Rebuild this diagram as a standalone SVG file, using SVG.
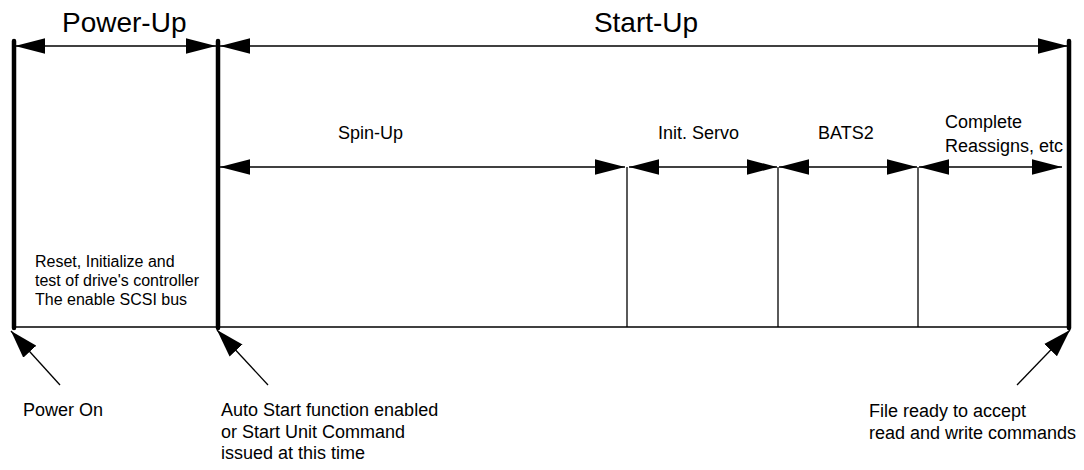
<svg xmlns="http://www.w3.org/2000/svg" width="1084" height="470" viewBox="0 0 1084 470">
  <style>
    .txt { font-family: "Liberation Sans", Arial, sans-serif; fill: #000; }
    .title { font-size: 28px; }
    .lbl { font-size: 18px; }
    .small { font-size: 16px; }
    .bar { stroke: #000; stroke-width: 4.5; stroke-linecap: round; fill: none; }
    .thin { stroke: #000; stroke-width: 1.3; fill: none; }
    .dim { stroke: #000; stroke-width: 1.3; fill: none; marker-start: url(#dimHead); marker-end: url(#dimHead); }
    .ptr { stroke: #000; stroke-width: 1.3; fill: none; marker-end: url(#ptrHead); }
  </style>
  <defs>
    <marker id="dimHead" markerUnits="userSpaceOnUse" markerWidth="30" markerHeight="16" viewBox="0 0 29 15" refX="29" refY="7.5" orient="auto-start-reverse">
      <path d="M0,0 L29,7.5 L0,15 Z" fill="#000"/>
    </marker>
    <marker id="ptrHead" markerUnits="userSpaceOnUse" markerWidth="28" markerHeight="18" viewBox="0 0 27 17" refX="27" refY="8.5" orient="auto">
      <path d="M0,0 L27,8.5 L0,17 Z" fill="#000"/>
    </marker>
  </defs>

  <!-- phase titles -->
  <g id="phase-power-up">
    <text class="txt title" x="62" y="32">Power-Up</text>
  </g>
  <g id="phase-start-up">
    <text class="txt title" x="646" y="32" text-anchor="middle">Start-Up</text>
  </g>

  <!-- milestone bars -->
  <g id="bar-power-on">
    <line class="bar" x1="14" y1="41" x2="14" y2="328"/>
  </g>
  <g id="bar-auto-start">
    <line class="bar" x1="218" y1="41" x2="218" y2="328"/>
  </g>
  <g id="bar-ready">
    <line class="bar" x1="1069" y1="41" x2="1069" y2="328"/>
  </g>

  <!-- step dividers and time axis -->
  <g id="axis">
    <line class="thin" x1="14" y1="327" x2="1069" y2="327"/>
    <line class="thin" x1="627" y1="167" x2="627" y2="327"/>
    <line class="thin" x1="778" y1="167" x2="778" y2="327"/>
    <line class="thin" x1="918" y1="167" x2="918" y2="327"/>
  </g>

  <!-- step labels -->
  <g id="step-spin-up">
    <text class="txt lbl" x="338" y="139">Spin-Up</text>
  </g>
  <g id="step-init-servo">
    <text class="txt lbl" x="658" y="139">Init. Servo</text>
  </g>
  <g id="step-bats2">
    <text class="txt lbl" x="818" y="139">BATS2</text>
  </g>
  <g id="step-complete">
    <text class="txt lbl" x="945" y="128">Complete</text>
    <text class="txt lbl" x="945" y="152">Reassigns, etc</text>
  </g>

  <!-- power-up description -->
  <g id="note-reset">
    <text class="txt small" x="35" y="267">Reset, Initialize and</text>
    <text class="txt small" x="35" y="286">test of drive's controller</text>
    <text class="txt small" x="35" y="305">The enable SCSI bus</text>
  </g>

  <!-- event captions -->
  <g id="event-power-on">
    <text class="txt lbl" x="23" y="416">Power On</text>
  </g>
  <g id="event-auto-start">
    <text class="txt lbl" x="221" y="416">Auto Start function enabled</text>
    <text class="txt lbl" x="221" y="437.5">or Start Unit Command</text>
    <text class="txt lbl" x="221" y="459">issued at this time</text>
  </g>
  <g id="event-ready">
    <text class="txt lbl" x="869" y="417">File ready to accept</text>
    <text class="txt lbl" x="869" y="439">read and write commands</text>
  </g>

  <!-- connectors: span arrows and pointers -->
  <g id="connectors">
    <line class="dim" x1="15" y1="46" x2="216" y2="46"/>
    <line class="dim" x1="220" y1="46" x2="1068" y2="46"/>

    <line class="dim" x1="220" y1="167" x2="625" y2="167"/>
    <line class="dim" x1="629" y1="167" x2="777" y2="167"/>
    <line class="dim" x1="779" y1="167" x2="917" y2="167"/>
    <line class="dim" x1="919" y1="167" x2="1062" y2="167"/>

    <line class="ptr" x1="60" y1="385" x2="11" y2="331"/>
    <line class="ptr" x1="268" y1="385" x2="217" y2="330"/>
    <line class="ptr" x1="1017" y1="385" x2="1070" y2="330"/>
  </g>
</svg>
